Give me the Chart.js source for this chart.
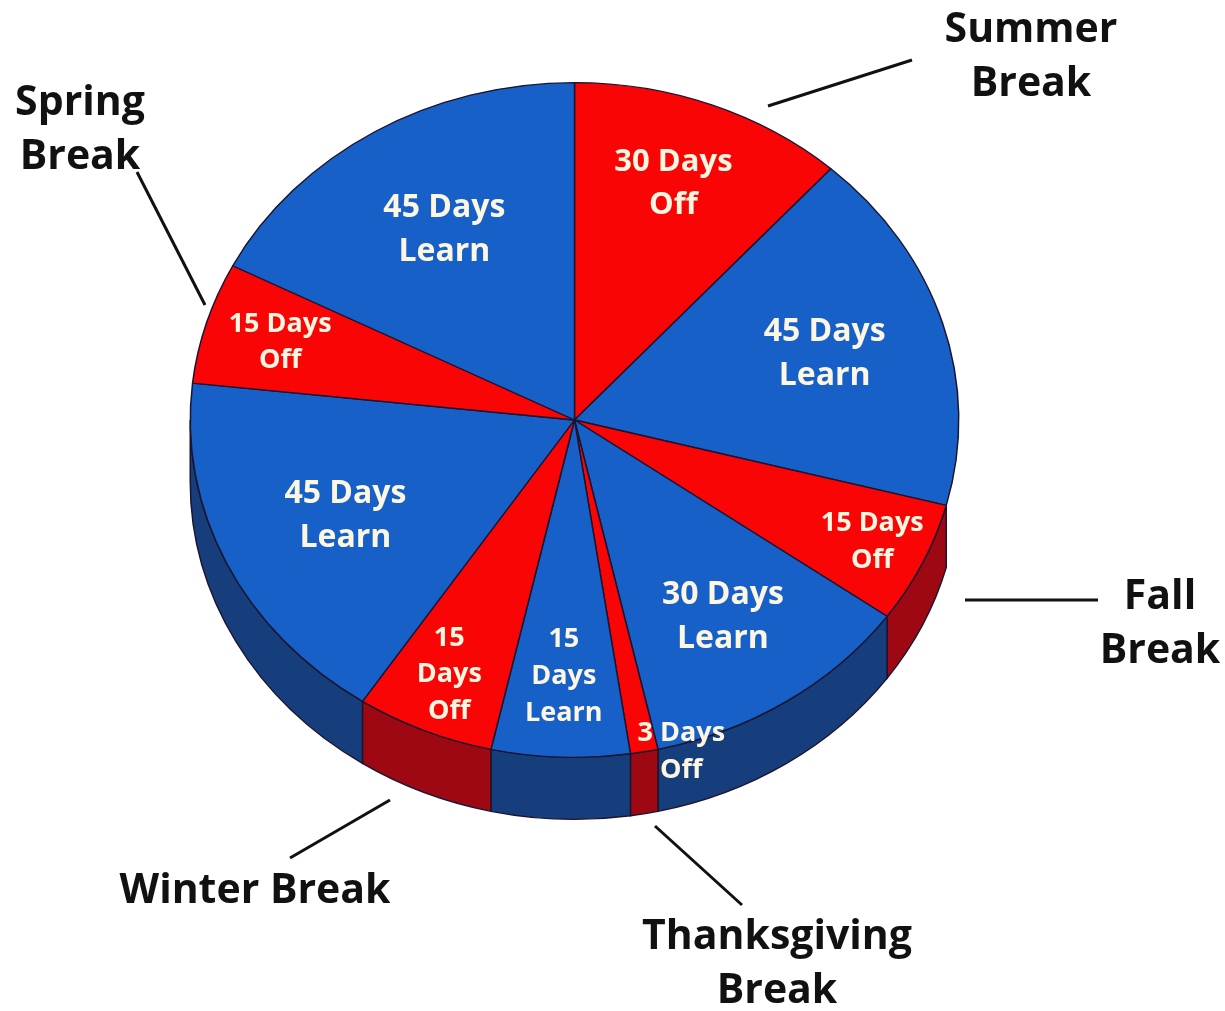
<!DOCTYPE html>
<html lang="en">
<head>
  <meta charset="UTF-8">
  <title>Year-Round School Calendar</title>
  <style>
    body {
      margin: 0;
      padding: 0;
      background-color: #fff;
    }

    .wrap {
      width: 1225px;
      height: 1011px;
    }
  </style>
</head>
<body>
  <div class="wrap">
    <canvas id="pie" width="1225" height="1011"></canvas>
  </div>

  <script src="https://cdn.jsdelivr.net/npm/chart.js"></script>
  <script>
    // Slices, clockwise from 12 o'clock
    const days = [30, 45, 15, 30, 3, 15, 15, 45, 15, 45];
    const kinds = ['Off', 'Learn', 'Off', 'Learn', 'Off', 'Learn', 'Off', 'Learn', 'Off', 'Learn'];
    const sliceLabels = [
      ['30 Days', 'Off'],
      ['45 Days', 'Learn'],
      ['15 Days', 'Off'],
      ['30 Days', 'Learn'],
      ['3 Days', 'Off'],
      ['15', 'Days', 'Learn'],
      ['15', 'Days', 'Off'],
      ['45 Days', 'Learn'],
      ['15 Days', 'Off'],
      ['45 Days', 'Learn']
    ];
    const breakNames = [
      { lines: ['Summer', 'Break'], x: 1031, y: 30, from: [768, 106], to: [912, 60] },
      { lines: ['Spring', 'Break'], x: 80, y: 103, from: [205, 305], to: [137, 172] },
      { lines: ['Fall', 'Break'], x: 1160, y: 597, from: [965, 600], to: [1098, 600] },
      { lines: ['Winter Break'], x: 255, y: 891, from: [390, 800], to: [290, 858] },
      { lines: ['Thanksgiving', 'Break'], x: 777, y: 937, from: [655, 826], to: [742, 905] }
    ];

    // label placement: fraction of radius, font size, x nudge
    const labelRadius = [0.75, 0.68, 0.85, 0.70, 1.0, 0.76, 0.82, 0.67, 0.80, 0.66];
    const labelSize = [31, 32, 27, 32, 27, 27, 27, 32, 27, 32];
    const labelNudge = [-4, 0, 2, 0, 37, 0, -2, 4, 0, 2];

    const squash = 0.878;   // vertical flattening of the disc
    const depth = 62;       // thickness of the side, in pixels

    const colors = {
      Off: { top: '#fa0505', side: '#9e0812' },
      Learn: { top: '#1660c8', side: '#173e7c' }
    };
    const textFont = '"Open Sans", "DejaVu Sans", sans-serif';

    const tiltPlugin = {
      id: 'tilt',
      beforeDatasetsDraw(chart) {
        const ctx = chart.ctx;
        const arcs = chart.getDatasetMeta(0).data;
        const cx = arcs[0].x, cy = arcs[0].y, r = arcs[0].outerRadius;
        const d = depth / squash;

        ctx.save();
        ctx.translate(cx, cy);
        ctx.scale(1, squash);
        ctx.translate(-cx, -cy);

        // side wall, only the front half (0..PI) shows
        arcs.forEach((arc, i) => {
          let s = arc.startAngle, e = arc.endAngle;
          while (s < 0) { s += Math.PI * 2; e += Math.PI * 2; }
          const a = Math.max(s, 0), b = Math.min(e, Math.PI);
          if (b <= a) return;
          ctx.beginPath();
          ctx.arc(cx, cy, r, a, b);
          ctx.arc(cx, cy + d, r, b, a, true);
          ctx.closePath();
          ctx.fillStyle = colors[kinds[i]].side;
          ctx.fill();
          ctx.lineWidth = 1.5;
          ctx.strokeStyle = '#1b1530';
          ctx.stroke();
        });
      },
      afterDatasetsDraw(chart) {
        const ctx = chart.ctx;
        ctx.restore();

        const arcs = chart.getDatasetMeta(0).data;
        const cx = arcs[0].x, cy = arcs[0].y, r = arcs[0].outerRadius;

        // slice texts
        ctx.save();
        ctx.fillStyle = '#fdf7e2';
        ctx.textAlign = 'center';
        ctx.textBaseline = 'middle';
        arcs.forEach((arc, i) => {
          const mid = (arc.startAngle + arc.endAngle) / 2;
          const f = labelRadius[i];
          const x = cx + Math.cos(mid) * r * f + labelNudge[i];
          const y = cy + Math.sin(mid) * r * f * squash;
          const size = labelSize[i];
          const lines = sliceLabels[i];
          const gap = size * 1.36;
          ctx.font = 'bold ' + size + 'px ' + textFont;
          lines.forEach((t, j) => {
            ctx.fillText(t, x, y + (j - (lines.length - 1) / 2) * gap);
          });
        });
        ctx.restore();
      },
      afterDraw(chart) {
        const ctx = chart.ctx;
        ctx.save();
        ctx.strokeStyle = '#111';
        ctx.lineWidth = 3;
        ctx.fillStyle = '#111';
        ctx.textAlign = 'center';
        ctx.textBaseline = 'middle';
        ctx.font = 'bold 41px ' + textFont;
        breakNames.forEach(b => {
          ctx.beginPath();
          ctx.moveTo(b.from[0], b.from[1]);
          ctx.lineTo(b.to[0], b.to[1]);
          ctx.stroke();
          b.lines.forEach((t, j) => ctx.fillText(t, b.x, b.y + j * 54));
        });
        ctx.restore();
      }
    };

    new Chart(document.getElementById('pie'), {
      type: 'pie',
      data: {
        labels: sliceLabels.map(l => l.join(' ')),
        datasets: [{
          data: days,
          backgroundColor: kinds.map(k => colors[k].top),
          borderColor: '#1b1530',
          borderWidth: 1.5
        }]
      },
      options: {
        responsive: false,
        animation: false,
        layout: {
          padding: { left: 189, right: 265, top: 35, bottom: 206 }
        },
        plugins: {
          legend: { display: false },
          tooltip: { enabled: false }
        }
      },
      plugins: [tiltPlugin]
    });
  </script>
</body>
</html>
